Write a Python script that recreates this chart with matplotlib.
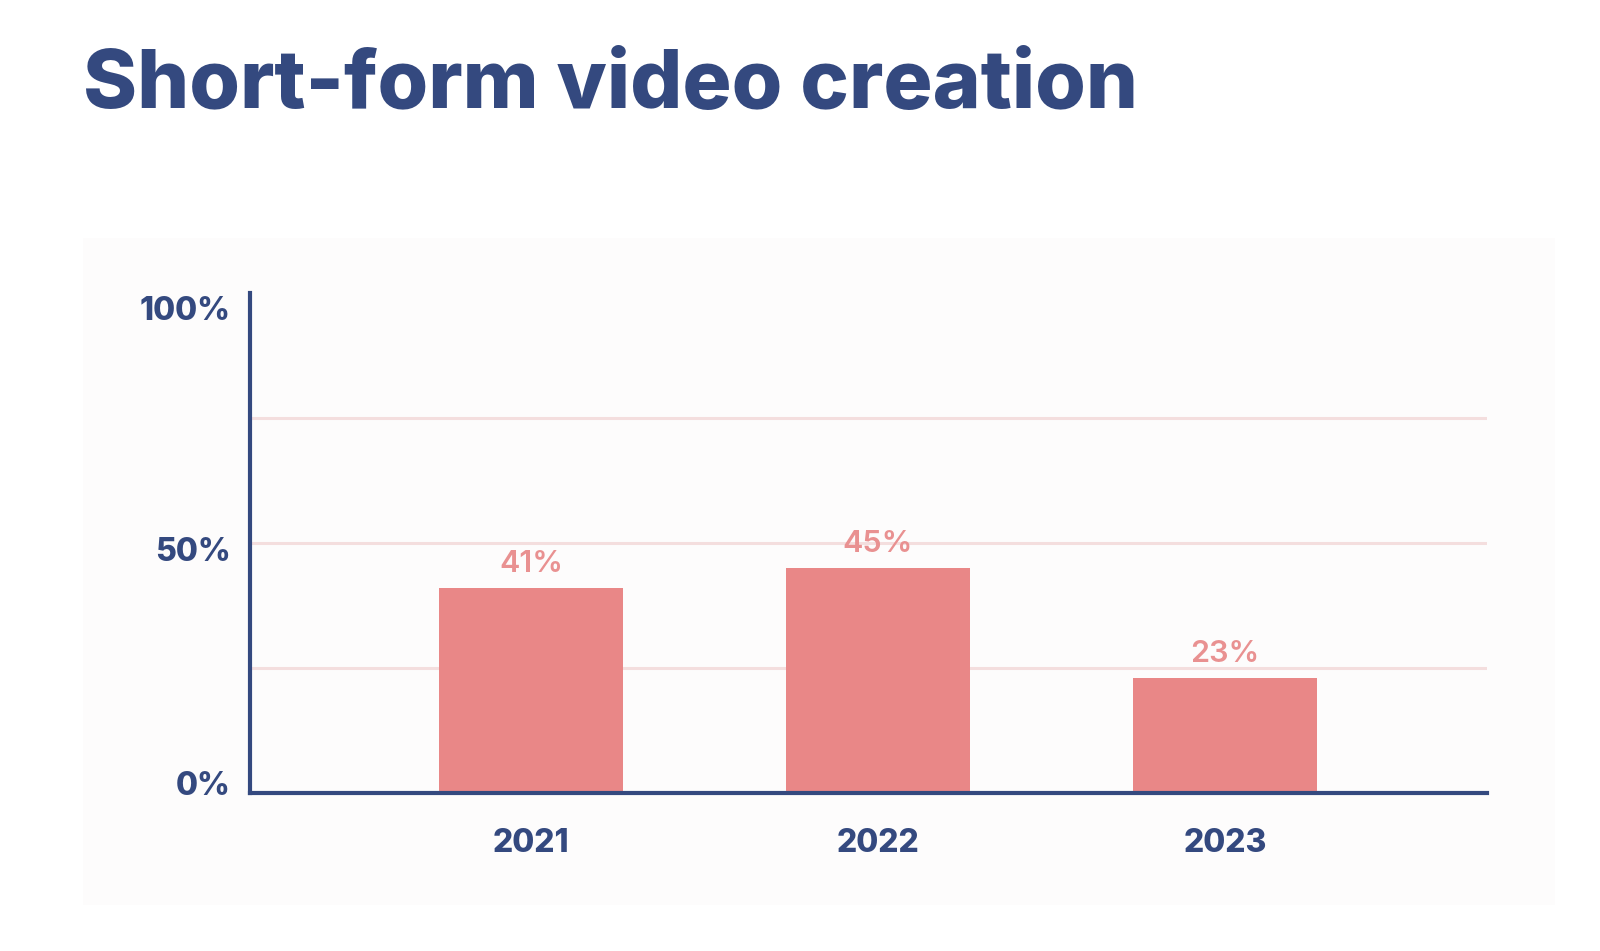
import matplotlib
matplotlib.use("Agg")
import matplotlib.pyplot as plt
import matplotlib.transforms as mtransforms
from matplotlib.patches import Rectangle

years = ["2021", "2022", "2023"]
shares = [41, 45, 23]
ytick_vals = [0, 50, 100]
ytick_labels = ["0%", "50%", "100%"]
grid_vals = [25, 50, 75]

navy = "#34497f"
bar_col = "#e98787"
label_col = "#e99191"
grid_col = "#f4dede"

plt.rcParams["font.family"] = ["Inter", "DejaVu Sans"]

fig = plt.figure(figsize=(16, 9.51), dpi=100)
fig.patch.set_facecolor("white")

# light panel behind the chart
bg = fig.add_axes([0, 0, 1, 1], zorder=-1)
bg.axis("off")
bg.add_patch(Rectangle((83 / 1600, 1 - 905 / 951), (1555 - 83) / 1600, (905 - 238) / 951,
                       transform=bg.transAxes, facecolor="#fdfcfc", edgecolor="none"))

fig.text(83 / 1600, 1 - 108 / 951, "Short-form video creation", fontsize=59, fontweight="heavy",
         color=navy, ha="left", va="baseline")

ax = fig.add_axes([250 / 1600, 1 - 793 / 951, (1487 - 250) / 1600, (793 - 293) / 951])
ax.set_facecolor("none")

x = list(range(len(years)))
bars = ax.bar(x, shares, width=0.53, color=bar_col, zorder=2)
for gv in grid_vals:
    ax.axhline(gv, color=grid_col, lw=2.2, zorder=1)

for xi, v in zip(x, shares):
    ax.annotate(f"{v}%", (xi, v), xytext=(0, 7), textcoords="offset points", ha="center", va="bottom",
                fontsize=22, fontweight="semibold", color=label_col)

ax.set_xlim(-0.81, 2.755)
ax.set_ylim(0, 100)
ax.set_xticks(x)
ax.set_xticklabels(years)
ax.set_yticks(ytick_vals)
ax.set_yticklabels(ytick_labels)
ax.tick_params(axis="both", length=0, colors=navy, labelsize=23)
ax.tick_params(axis="x", pad=25)
ax.tick_params(axis="y", pad=14)
for lab in ax.get_xticklabels() + ax.get_yticklabels():
    lab.set_fontweight("heavy")
# y labels sit a little inside the axis span, as in the original
for lab, dy in zip(ax.get_yticklabels(), [7, -4, -11]):
    off = mtransforms.ScaledTranslation(0, dy / 72, fig.dpi_scale_trans)
    lab.set_transform(lab.get_transform() + off)

for side in ["top", "right"]:
    ax.spines[side].set_visible(False)
for side in ["left", "bottom"]:
    ax.spines[side].set_color(navy)
    ax.spines[side].set_linewidth(3)
    ax.spines[side].set_zorder(3)

fig.savefig("out.png", dpi=100)
